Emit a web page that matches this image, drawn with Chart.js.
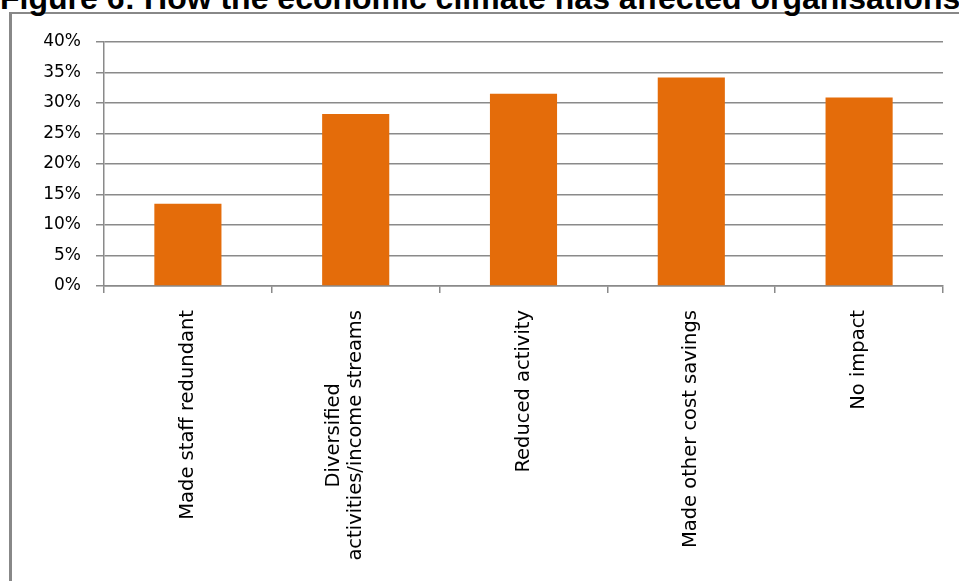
<!DOCTYPE html>
<html>
<head>
<meta charset="utf-8">
<script src="https://cdn.jsdelivr.net/npm/chart.js@4/dist/chart.umd.min.js"></script>
<style>
  html, body { margin: 0; padding: 0; background: #fff; overflow: hidden; }
  #wrap { position: absolute; left: 0; top: 0; width: 959px; height: 581px; }
  #frame {
    position: absolute; left: 9px; top: 12px; width: 960px; height: 580px;
    border-left: 3px solid #888; border-top: 2px solid #888;
  }
  #title {
    position: absolute; left: 0; top: -18px; white-space: nowrap;
    font: bold 32px "Liberation Sans", Arial, sans-serif; line-height: 32px; color: #000;
  }
  #box { position: absolute; left: 0; top: 0; width: 959px; height: 581px; }
</style>
</head>
<body>
<div id="wrap">
  <div id="frame"></div>
  <div id="title">Figure 6: How the economic climate has affected organisations</div>
  <div id="box"><canvas id="myChart"></canvas></div>
</div>
<script>
const categories = [
  "Made staff redundant",
  ["Diversified", "activities/income streams"],
  "Reduced activity",
  "Made other cost savings",
  "No impact",
];
const shares = [13.5, 28.2, 31.5, 34.2, 30.9];
const yTicks = [0, 5, 10, 15, 20, 25, 30, 35, 40];

const barColor = "#E46C0A";
const gridColor = "#8a8a8a";

// rotated category labels, lines centred on each other like the original
const xLabels = {
  id: "xLabels",
  afterDraw(chart) {
    const { ctx } = chart;
    const x = chart.scales.x;
    const lh = 22;
    ctx.save();
    ctx.font = '19.5px "DejaVu Sans"';
    ctx.fillStyle = "#000";
    ctx.textBaseline = "middle";
    ctx.textAlign = "center";
    categories.forEach((label, i) => {
      const lines = Array.isArray(label) ? label : [label];
      const maxW = Math.max(...lines.map((l) => ctx.measureText(l).width));
      const px = x.getPixelForTick(i);
      lines.forEach((line, k) => {
        ctx.save();
        ctx.translate(px - (lines.length - 1 - k) * lh, x.top + 24 + maxW / 2);
        ctx.rotate(-Math.PI / 2);
        ctx.fillText(line, 0, 0);
        ctx.restore();
      });
    });
    ctx.restore();
  },
};

const config = {
  type: "bar",
  data: {
    labels: categories,
    datasets: [
      {
        label: "Share of organisations",
        data: shares,
        backgroundColor: barColor,
        borderWidth: 0,
        barPercentage: 0.4,
        categoryPercentage: 1.0,
      },
    ],
  },
  options: {
    responsive: true,
    maintainAspectRatio: false,
    animation: false,
    layout: { padding: { top: 42, right: 16, bottom: 0, left: 0 } },
    plugins: {
      legend: { display: false },
      tooltip: { enabled: false },
    },
    scales: {
      x: {
        afterFit: (axis) => { axis.height = 295; },
        grid: {
          offset: true,
          drawOnChartArea: false,
          drawTicks: true,
          tickLength: 7,
          color: gridColor,
          lineWidth: 1.5,
        },
        border: { color: gridColor, width: 1.5 },
        ticks: { display: false, autoSkip: false },
      },
      y: {
        min: 0,
        max: 40,
        afterFit: (axis) => { axis.width = 104; },
        afterBuildTicks: (axis) => { axis.ticks = yTicks.map((v) => ({ value: v })); },
        grid: {
          color: gridColor,
          lineWidth: 1.5,
          tickLength: 8,
        },
        border: { color: gridColor, width: 1.5 },
        ticks: {
          padding: 15,
          color: "#000",
          font: { family: "DejaVu Sans", size: 17 },
          callback: (v) => v + "%",
        },
      },
    },
  },
  plugins: [xLabels],
};

let myChart = new Chart(document.getElementById("myChart"), config);
</script>
</body>
</html>
